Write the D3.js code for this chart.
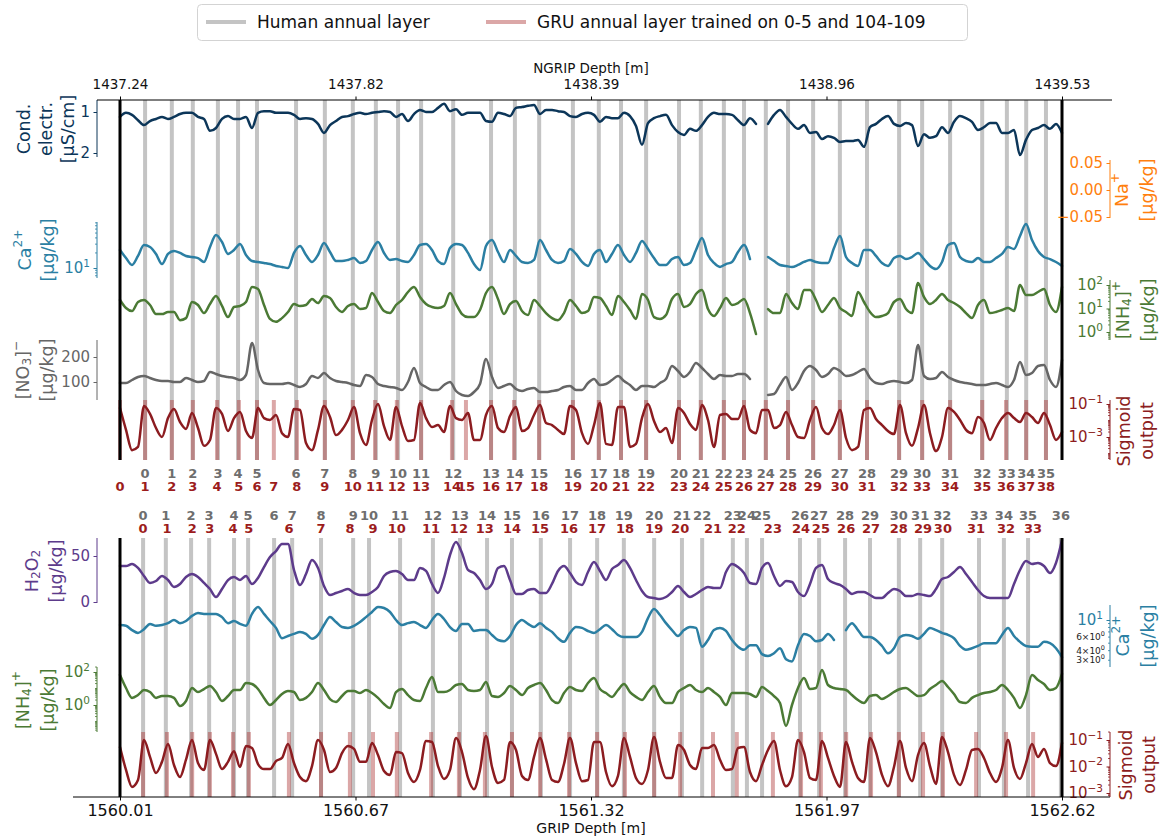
<!DOCTYPE html>
<html>
<head>
<meta charset="utf-8">
<script src="https://cdn.jsdelivr.net/npm/d3@7"></script>
<style>
  body { margin: 0; background: #fff; }
  svg { display: block; }
  text { font-family: "DejaVu Sans", sans-serif; }
</style>
</head>
<body>
<svg id="chart" width="1161" height="838"></svg>
<script>
// ---------------- depth axes ----------------
const ngripRange = [1437.24, 1439.53];
const gripRange = [1560.01, 1562.62];
const ngripTickLabels = ["1437.24", "1437.82", "1438.39", "1438.96", "1439.53"];
const gripTickLabels = ["1560.01", "1560.67", "1561.32", "1561.97", "1562.62"];

// sampling grid of the measurement series (m)
const ngripStart = 1437.24, ngripStep = 0.014586;
const gripStart = 1560.01, gripStep = 0.016624;

// ---------------- annual layer depths (m) ----------------
const ngripHumanLayers = [1437.301, 1437.366, 1437.417, 1437.478, 1437.527, 1437.573, 1437.668, 1437.738, 1437.806, 1437.862, 1437.916, 1437.972, 1438.050, 1438.142, 1438.200, 1438.259, 1438.341, 1438.404, 1438.458, 1438.519, 1438.599, 1438.652, 1438.708, 1438.757, 1438.810, 1438.864, 1438.925, 1438.990, 1439.056, 1439.134, 1439.190, 1439.258, 1439.336, 1439.396, 1439.443, 1439.491];
const ngripGruLayers = [1437.240, 1437.301, 1437.366, 1437.417, 1437.476, 1437.529, 1437.573, 1437.614, 1437.670, 1437.738, 1437.806, 1437.860, 1437.913, 1437.972, 1438.047, 1438.081, 1438.142, 1438.198, 1438.259, 1438.341, 1438.404, 1438.458, 1438.519, 1438.599, 1438.652, 1438.708, 1438.757, 1438.810, 1438.864, 1438.925, 1438.990, 1439.056, 1439.134, 1439.190, 1439.258, 1439.336, 1439.394, 1439.443, 1439.491];
const gripHumanLayers = [1560.074, 1560.137, 1560.207, 1560.257, 1560.326, 1560.365, 1560.437, 1560.487, 1560.567, 1560.656, 1560.700, 1560.786, 1560.877, 1560.952, 1561.027, 1561.096, 1561.176, 1561.257, 1561.332, 1561.406, 1561.490, 1561.567, 1561.623, 1561.708, 1561.747, 1561.789, 1561.894, 1561.947, 1562.019, 1562.088, 1562.168, 1562.227, 1562.288, 1562.390, 1562.459, 1562.526, 1562.617];
const gripGruLayers = [1560.074, 1560.140, 1560.210, 1560.259, 1560.323, 1560.367, 1560.478, 1560.567, 1560.647, 1560.711, 1560.777, 1560.872, 1560.949, 1561.021, 1561.096, 1561.174, 1561.254, 1561.332, 1561.409, 1561.490, 1561.562, 1561.653, 1561.719, 1561.819, 1561.897, 1561.952, 1562.022, 1562.091, 1562.168, 1562.235, 1562.290, 1562.382, 1562.465, 1562.540];

// ---------------- NGRIP records ----------------
const ngripConductivity = [1.12,1.02,1.07,1.20,1.32,1.22,1.17,1.12,1.17,1.12,
 1.05,1.02,1.02,1.12,1.17,1.46,1.39,1.17,1.10,1.17,
 1.17,1.12,1.39,1.02,0.98,0.98,1.02,1.02,1.02,1.07,
 1.17,1.15,1.17,1.29,1.51,1.32,1.22,1.12,1.10,1.05,
 1.02,1.05,1.02,1.00,0.98,1.00,1.12,1.05,1.22,1.05,
 0.95,1.00,1.00,0.90,0.80,0.98,0.93,1.07,1.02,1.02,
 1.02,1.22,1.24,1.02,1.05,1.10,0.90,0.88,0.85,0.83,
 1.05,0.95,0.95,0.98,1.00,1.10,1.12,1.05,1.02,1.07,
 1.24,1.12,1.15,1.15,1.02,1.10,1.34,1.80,1.27,1.15,
 1.10,1.07,1.32,1.49,1.56,1.41,1.46,1.32,1.12,1.02,
 1.05,1.05,1.07,1.20,1.32,1.15,1.29,null,1.29,1.07,
 0.95,1.12,1.29,1.41,1.32,1.51,1.49,1.66,1.59,1.63,
 1.73,1.71,1.71,1.68,1.85,1.37,1.29,1.17,1.10,1.29,
 1.34,1.27,1.32,1.83,1.54,1.63,1.59,1.37,1.51,1.24,
 1.10,1.15,1.24,1.44,1.37,1.27,1.27,1.51,1.51,1.44,
 2.05,1.68,1.44,1.39,1.32,1.41,1.29,1.51];
const ngripNa = [];
const ngripCa = [22.9,15.8,11.5,17.4,28.8,26.3,19.1,12.0,19.1,21.9,
 20.0,17.4,16.6,15.8,13.2,26.3,45.7,33.1,19.1,22.9,
 30.2,18.2,13.8,13.2,12.6,12.0,11.0,10.5,10.0,20.0,
 27.5,18.2,13.2,18.2,31.6,20.9,13.8,13.8,14.5,15.8,
 12.6,13.8,22.9,33.1,20.0,14.5,15.1,13.8,13.2,18.2,
 28.8,30.2,22.9,13.8,12.0,25.1,30.2,28.8,20.0,12.0,
 9.1,27.5,36.3,20.9,13.2,22.9,17.4,13.2,12.6,14.5,
 36.3,22.9,14.5,12.6,13.8,24.0,19.1,13.2,11.0,19.1,
 22.9,13.2,19.1,28.8,18.2,13.2,20.0,34.7,24.0,15.8,
 11.5,11.5,15.1,16.6,11.5,12.6,22.9,39.8,18.2,12.6,
 10.5,12.0,13.2,20.9,28.8,15.1,null,null,16.6,13.8,
 11.5,11.0,10.5,11.5,13.2,14.5,13.2,12.6,12.6,25.1,
 43.7,16.6,12.6,11.0,22.9,22.9,17.4,12.6,11.0,15.8,
 17.4,15.1,16.6,20.0,15.1,11.0,9.5,13.2,28.8,31.6,
 16.6,13.8,13.2,15.8,13.2,13.2,15.8,19.1,26.3,24.0,
 43.7,75.9,36.3,21.9,16.6,15.1,13.2,11.0];
const ngripNH4 = [23.0,10.5,7.8,18.9,23.0,14.1,5.8,5.8,7.1,7.1,
 3.2,3.9,18.9,14.1,6.4,15.5,34.0,12.8,4.3,11.6,
 12.8,18.9,82,67.6,14.1,3.6,2.7,3.9,7.1,15.5,
 12.8,14.1,25.4,17.1,34.0,28.0,11.6,7.1,12.8,15.5,
 9.5,10.5,45.7,18.9,7.8,6.4,14.1,23.0,50.4,82,
 30.9,15.5,11.6,10.5,12.8,45.7,15.5,5.8,4.3,4.3,
 8.6,45.7,82,25.4,5.8,15.5,20.8,7.8,5.3,23.0,
 12.8,6.4,3.9,3.2,6.4,23.0,12.8,6.4,7.8,30.9,
 28.0,12.8,5.3,34.0,18.9,8.6,3.6,41.4,23.0,4.3,
 3.6,5.3,25.4,41.4,11.6,15.5,41.4,61.3,9.5,4.8,
 10.5,28.0,14.1,17.1,25.4,6.4,0.82,null,9.5,6.4,
 6.4,41.4,17.1,9.5,61.3,61.3,23.0,7.1,14.1,28.0,
 10.5,7.1,4.8,50.4,18.9,7.1,4.3,4.8,6.4,18.9,
 25.4,9.5,6.4,122,30.9,15.5,23.0,41.4,23.0,17.1,
 11.6,6.4,3.9,14.1,23.0,6.4,7.1,8.6,10.5,7.8,
 100,37.5,37.5,50.4,67.6,14.1,7.1,82];
const ngripNO3 = [96,96,108,120,124,116,108,104,104,100,
 100,116,108,100,104,140,132,124,120,116,
 108,128,256,148,96,92,92,92,96,88,
 80,92,124,116,136,116,104,100,96,88,
 84,128,120,92,84,80,76,68,100,156,
 96,80,68,68,88,100,64,48,44,60,
 92,192,120,76,84,92,72,64,72,76,
 60,60,64,68,80,84,68,68,96,112,
 88,92,108,124,104,88,68,84,84,80,
 96,112,164,144,120,140,176,156,132,112,
 128,124,124,132,132,112,null,null,48,52,
 88,120,68,96,144,164,148,120,132,156,
 144,124,128,140,152,116,96,92,100,104,
 100,96,108,248,124,112,116,140,120,108,
 100,96,92,88,88,92,96,88,80,108,
 180,128,136,164,168,108,80,188];
const ngripSigmoid = [0.057,0.0027,0.00016,0.00025,0.076,0.025,0.0035,0.0010,0.014,0.050,
 0.0081,0.0031,0.0285,0.0035,0.00029,0.00066,0.057,0.025,0.0023,0.014,
 0.033,0.0023,0.00087,0.057,0.014,0.0107,0.0216,0.0017,0.0010,0.050,
 0.043,0.00043,0.00016,0.0027,0.076,0.0163,0.0013,0.0027,0.0107,0.066,
 0.0017,0.00033,0.0107,0.100,0.0046,0.00066,0.066,0.0046,0.00057,0.00066,
 0.115,0.014,0.0040,0.0053,0.0020,0.076,0.014,0.0107,0.0285,0.00066,
 0.00066,0.0216,0.076,0.0035,0.0020,0.0187,0.066,0.0023,0.0035,0.0216,
 0.087,0.0071,0.0053,0.0027,0.0015,0.076,0.043,0.0017,0.00038,0.0053,
 0.115,0.00038,0.00033,0.066,0.066,0.00025,0.00038,0.014,0.100,0.0093,
 0.0020,0.0035,0.00043,0.057,0.0285,0.0061,0.0027,0.087,0.0107,0.00025,
 0.0216,0.025,0.0123,0.0123,0.076,0.0027,0.0017,0.043,0.043,0.0035,
 0.0053,0.033,0.0053,0.0010,0.00087,0.0107,0.066,0.0035,0.0015,0.0053,
 0.043,0.00087,0.00016,0.00025,0.043,0.057,0.0123,0.0053,0.0023,0.0015,
 0.087,0.0017,0.00029,0.0035,0.087,0.0017,0.00014,0.0010,0.057,0.033,
 0.0107,0.0027,0.0017,0.0163,0.0071,0.00066,0.0035,0.014,0.0285,0.014,
 0.0081,0.0285,0.0163,0.0071,0.0285,0.0053,0.00066,0.0020];

// ---------------- GRIP records ----------------
const gripH2O2 = [39.1,39.1,41.3,37.0,28.3,20.7,22.8,28.3,23.9,16.3,
 19.6,27.2,30.4,27.2,20.7,14.1,5.4,14.1,23.9,27.2,
 23.9,28.3,19.6,26.1,38.0,48.9,55.4,63.0,63.0,34.8,
 18.5,30.4,45.7,37.0,17.4,7.6,9.8,12.0,14.1,9.8,
 7.6,7.6,10.9,16.3,28.3,32.6,33.7,30.4,23.9,23.9,
 37.0,33.7,19.6,9.8,26.1,51.1,65.2,53.3,34.8,31.5,
 23.9,14.1,19.6,37.0,39.1,23.9,8.7,8.7,13.0,14.1,
 9.8,9.8,19.6,33.7,39.1,31.5,21.7,18.5,32.6,43.5,
 33.7,23.9,35.9,40.2,45.7,37.0,23.9,12.0,5.4,4.3,
 3.3,5.4,10.9,17.4,10.9,5.4,8.7,13.0,16.3,15.2,
 15.2,32.6,41.3,38.0,31.5,20.7,19.6,37.0,42.4,28.3,
 17.4,22.8,21.7,10.9,6.5,19.6,37.0,40.2,25.0,20.7,
 18.5,14.1,8.7,10.9,10.9,7.6,4.3,4.3,9.8,14.1,
 12.0,6.5,6.5,8.7,7.6,6.5,14.1,25.0,27.2,32.6,
 38.0,30.4,21.7,13.0,6.5,4.3,4.3,4.3,4.3,19.6,
 34.8,44.6,41.3,42.4,39.1,31.5,42.4,67.4];
const gripCa = [8.6,8.4,7.4,6.8,7.6,8.9,8.4,8.6,9.1,10.0,
 9.1,9.7,11.3,12.3,12.0,12.0,12.0,10.9,9.1,9.7,
 8.9,8.4,12.0,14.8,12.0,9.7,7.9,5.8,6.2,6.6,
 7.0,6.6,5.7,6.4,8.6,10.9,9.4,8.1,7.9,8.4,
 9.4,10.9,12.7,14.8,14.3,12.7,10.0,8.6,9.1,9.4,
 8.6,7.9,10.0,12.0,10.3,8.1,7.2,8.9,8.9,7.2,
 7.4,7.4,6.4,5.5,5.3,6.2,8.6,10.0,8.9,8.1,
 9.1,7.9,7.0,5.8,5.2,6.8,8.1,7.9,7.2,6.8,
 7.6,8.6,7.6,6.4,6.0,6.0,6.0,7.0,10.6,13.9,
 11.6,9.1,7.4,6.2,7.4,8.1,7.9,4.5,5.5,7.4,
 7.9,7.2,5.5,4.5,4.1,4.7,4.7,3.6,3.4,3.7,
 4.3,3.1,2.9,4.7,6.6,6.2,5.3,5.5,6.6,5.5,
 null,7.4,9.1,7.4,6.0,6.0,5.5,4.6,3.7,4.3,
 6.0,6.4,6.2,5.7,6.6,7.9,7.4,6.8,6.4,5.8,
 4.6,4.1,4.3,4.6,5.0,5.0,5.0,6.4,7.9,6.2,
 5.2,4.6,4.5,4.5,5.2,5.0,4.3,3.3];
const gripNH4 = [65.8,10.7,2.7,4.0,8.1,6.1,2.7,3.5,3.5,2.7,
 0.87,1.75,10.7,6.1,9.3,14.2,6.1,1.75,3.5,8.1,
 8.1,21.5,18.7,9.3,2.7,1.0,2.0,4.6,7.0,6.1,
 2.0,2.7,6.1,21.5,8.1,2.3,1.52,3.5,7.0,7.0,
 5.3,8.1,5.3,2.7,1.15,0.66,6.1,9.3,4.0,2.0,
 1.75,10.7,49.8,6.1,6.1,8.1,16.3,18.7,8.1,7.0,
 8.1,24.8,3.5,3.1,5.3,14.2,8.1,4.0,10.7,16.3,
 21.5,8.1,2.0,1.32,5.3,12.3,8.1,7.0,21.5,43.3,
 9.3,5.3,3.1,8.1,18.7,6.1,3.1,2.0,6.1,14.2,
 3.1,1.32,1.32,6.1,10.7,16.3,8.1,6.1,10.7,6.1,
 3.1,1.0,5.3,5.3,5.3,4.6,3.1,12.3,7.0,3.5,
 1.32,0.053,1.0,10.7,43.3,9.3,10.7,132,16.3,10.7,
 9.3,8.1,4.0,2.0,1.32,3.5,4.0,2.3,3.5,6.1,
 9.3,10.7,6.1,3.5,4.0,9.3,16.3,28.5,12.3,4.6,
 1.52,1.32,2.7,4.0,5.3,6.1,8.1,16.3,8.1,2.7,
 0.66,4.0,65.8,32.7,18.7,8.1,10.7,75.7];
const gripSigmoid = [0.054,0.0074,0.0017,0.0031,0.100,0.023,0.0057,0.015,0.071,0.0114,
 0.0040,0.018,0.100,0.0135,0.0074,0.100,0.030,0.0080,0.015,0.038,
 0.0096,0.059,0.050,0.0124,0.0080,0.0080,0.016,0.021,0.071,0.0135,
 0.0040,0.0028,0.0104,0.100,0.042,0.0062,0.0088,0.032,0.059,0.046,
 0.015,0.015,0.077,0.027,0.0068,0.0048,0.035,0.032,0.0057,0.0026,
 0.0074,0.092,0.084,0.0104,0.0034,0.0074,0.119,0.035,0.0037,0.0014,
 0.0074,0.141,0.0096,0.0024,0.0031,0.084,0.042,0.0044,0.0031,0.023,
 0.119,0.019,0.0031,0.0026,0.0124,0.119,0.0135,0.0028,0.0031,0.084,
 0.084,0.0062,0.0018,0.0044,0.119,0.023,0.0037,0.0022,0.0074,0.130,
 0.015,0.0037,0.0037,0.065,0.042,0.0114,0.0080,0.050,0.050,0.065,
 0.018,0.0074,0.0080,0.050,0.054,0.0062,0.0028,0.0114,0.042,0.092,
 0.0074,0.0018,0.0040,0.100,0.035,0.0037,0.0031,0.092,0.021,0.0044,
 0.0017,0.084,0.015,0.0037,0.0026,0.119,0.035,0.0048,0.0018,0.0096,
 0.092,0.0088,0.0028,0.027,0.077,0.0104,0.0022,0.130,0.035,0.0048,
 0.0020,0.0074,0.042,0.046,0.021,0.0057,0.0026,0.0088,0.100,0.0088,
 0.0034,0.0135,0.071,0.023,0.046,0.0135,0.0104,0.077];

// ---------------- drawing ----------------
const svg = d3.select("#chart");
svg.append("rect").attr("width", 1161).attr("height", 838).attr("fill", "#fff");

const xN = d3.scaleLinear().domain(ngripRange).range([120, 1062]);
const xG = d3.scaleLinear().domain(gripRange).range([120, 1062]);

const COL = {
  cond: "#0c3659", na: "#ff7f0e", ca: "#2b7fa3", nh4: "#4b7a35",
  no3: "#666666", sig: "#8c1c20", h2o2: "#5d3b8b"
};
const LEFT_X = 97, RIGHT_X = 1110;
const HUMAN = "#c4c4c4";
const GRU = "rgba(170,45,45,0.42)";
const LABEL_FS = 17.5, TICK_FS = 15;

// text with sub/superscript parts
function rich(t, parts, fs) {
  let cur = 0;
  parts.forEach(([s, kind]) => {
    const target = kind === "sup" ? -0.42 * fs : kind === "sub" ? 0.24 * fs : 0;
    const sp = t.append("tspan").text(s);
    if (kind) sp.attr("font-size", fs * 0.7);
    if (target !== cur) sp.attr("dy", target - cur);
    cur = target;
  });
}
const expText = e => String(e).replace("-", "\u2212");

const panels = [
  { x: xN, start: ngripStart, step: ngripStep, values: ngripConductivity,
    y: d3.scaleLinear().domain([1, 2]).range([112, 153]), spine: [100, 157], side: "left",
    color: COL.cond, ticks: [1, 2], fmt: d => String(d),
    label: [[["Cond."]], [["electr."]], [["[\u03bcS/cm]"]]], lx: [24, 46, 68], ly: 129 },
  { x: xN, start: ngripStart, step: ngripStep, values: ngripNa,
    y: d3.scaleLinear().domain([-0.05, 0.05]).range([217, 163]), spine: [160, 218], side: "right",
    color: COL.na, ticks: [-0.05, 0, 0.05], fmt: d3.format(".2f"),
    label: [[["Na"], ["+", "sup"]], [["[\u03bcg/kg]"]]], lx: [1122, 1147], ly: 190 },
  { x: xN, start: ngripStart, step: ngripStep, values: ngripCa,
    y: d3.scaleLog().domain([10, 100]).range([268, 218]), spine: [222, 278], side: "left",
    color: COL.ca, log: true, ticks: [10],
    label: [[["Ca"], ["2+", "sup"]], [["[\u03bcg/kg]"]]], lx: [25, 48], ly: 250 },
  { x: xN, start: ngripStart, step: ngripStep, values: ngripNH4,
    y: d3.scaleLog().domain([1, 100]).range([332, 285]), spine: [280, 340], side: "right",
    color: COL.nh4, log: true, ticks: [1, 10, 100],
    label: [[["[NH"], ["4", "sub"], ["]"], ["+", "sup"]], [["[\u03bcg/kg]"]]], lx: [1123, 1148], ly: 310 },
  { x: xN, start: ngripStart, step: ngripStep, values: ngripNO3,
    y: d3.scaleLinear().domain([100, 200]).range([382, 357]), spine: [340, 400], side: "left",
    color: COL.no3, ticks: [100, 200], fmt: d => String(d),
    label: [[["[NO"], ["3", "sub"], ["]"], ["\u2212", "sup"]], [["[\u03bcg/kg]"]]], lx: [23, 47], ly: 370 },
  { x: xN, start: ngripStart, step: ngripStep, values: ngripSigmoid,
    y: d3.scaleLog().domain([1e-3, 1e-1]).range([437, 404]), spine: [400, 460], side: "right",
    color: COL.sig, log: true, ticks: [1e-3, 1e-1],
    label: [[["Sigmoid"]], [["output"]]], lx: [1124, 1147], ly: 431 },

  { x: xG, start: gripStart, step: gripStep, values: gripH2O2,
    y: d3.scaleLinear().domain([0, 50]).range([602, 556]), spine: [538, 603], side: "left",
    color: COL.h2o2, ticks: [0, 50], fmt: d => String(d),
    label: [[["H"], ["2", "sub"], ["O"], ["2", "sub"]], [["[\u03bcg/kg]"]]], lx: [32, 56], ly: 571 },
  { x: xG, start: gripStart, step: gripStep, values: gripCa,
    y: d3.scaleLog().domain([1, 10]).range([697, 620]), spine: [605, 667], side: "right",
    color: COL.ca, log: true, ticks: [10], minorLabels: [3, 4, 6],
    label: [[["Ca"], ["2+", "sup"]], [["[\u03bcg/kg]"]]], lx: [1123, 1148], ly: 636 },
  { x: xG, start: gripStart, step: gripStep, values: gripNH4,
    y: d3.scaleLog().domain([1, 100]).range([705, 672]), spine: [667, 732], side: "left",
    color: COL.nh4, log: true, ticks: [1, 100],
    label: [[["[NH"], ["4", "sub"], ["]"], ["+", "sup"]], [["[\u03bcg/kg]"]]], lx: [23, 48], ly: 700 },
  { x: xG, start: gripStart, step: gripStep, values: gripSigmoid,
    y: d3.scaleLog().domain([1e-3, 1e-1]).range([793, 740]), spine: [732, 797], side: "right",
    color: COL.sig, log: true, ticks: [1e-3, 1e-2, 1e-1],
    label: [[["Sigmoid"]], [["output"]]], lx: [1126, 1149], ly: 765 }
];

// ---- legend ----
const leg = svg.append("g");
leg.append("rect").attr("x", 197.5).attr("y", 4.5).attr("width", 770).attr("height", 36)
  .attr("rx", 4).attr("fill", "#fff").attr("stroke", "#d3d3d3");
leg.append("line").attr("x1", 206).attr("x2", 246).attr("y1", 22).attr("y2", 22)
  .attr("stroke", HUMAN).attr("stroke-width", 4);
leg.append("text").attr("x", 257).attr("y", 28).attr("font-size", 17).attr("fill", "#111")
  .text("Human annual layer");
leg.append("line").attr("x1", 486).attr("x2", 526).attr("y1", 22).attr("y2", 22)
  .attr("stroke", GRU).attr("stroke-width", 4);
leg.append("text").attr("x", 537).attr("y", 28).attr("font-size", 17).attr("fill", "#111")
  .text("GRU annual layer trained on 0-5 and 104-109");

// ---- annual layer markers ----
function layerLines(x, depths, y0, y1, color) {
  svg.append("g").selectAll("line").data(depths).join("line")
    .attr("x1", d => x(d)).attr("x2", d => x(d)).attr("y1", y0).attr("y2", y1)
    .attr("stroke", color).attr("stroke-width", 4);
}
layerLines(xN, ngripHumanLayers, 100, 460, HUMAN);
layerLines(xN, ngripGruLayers, 400, 460, GRU);
layerLines(xG, gripHumanLayers, 538, 797, HUMAN);
layerLines(xG, gripGruLayers, 732, 797, GRU);

// ---- series ----
panels.forEach(p => {
  const pts = p.values.map((v, i) => ({ d: p.start + i * p.step, v }));
  if (!pts.length) return;
  const line = d3.line()
    .defined(d => d.v != null)
    .x(d => p.x(d.d)).y(d => p.y(d.v))
    .curve(d3.curveMonotoneX);
  svg.append("path").datum(pts).attr("d", line)
    .attr("fill", "none").attr("stroke", p.color).attr("stroke-width", 2.5)
    .attr("stroke-linejoin", "round").attr("stroke-linecap", "round");
});

// ---- section boundaries ----
[[100, 460], [538, 797]].forEach(([a, b]) => {
  [120, 1062].forEach(xv => {
    svg.append("line").attr("x1", xv).attr("x2", xv).attr("y1", a).attr("y2", b)
      .attr("stroke", "#000").attr("stroke-width", 3);
  });
});

// ---- panel axes ----
panels.forEach(p => {
  const ax = p.side === "left" ? LEFT_X : RIGHT_X;
  const g = svg.append("g").attr("transform", `translate(${ax},0)`);
  g.append("line").attr("x1", 0).attr("x2", 0).attr("y1", p.spine[0]).attr("y2", p.spine[1])
    .attr("stroke", p.color).attr("stroke-width", 1);

  const axis = d3.axisLeft(p.y).tickValues(p.ticks).tickSize(3.5).tickPadding(3.5)
    .tickFormat(p.log ? () => "" : p.fmt);
  const ag = g.append("g").call(axis);
  ag.select(".domain").remove();
  ag.selectAll(".tick line").attr("stroke", p.color);
  ag.selectAll(".tick text").attr("fill", p.color).attr("font-size", TICK_FS)
    .attr("font-family", '"DejaVu Sans", sans-serif');
  if (p.log) {
    ag.selectAll(".tick text").each(function (d) {
      const t = d3.select(this);
      t.text(null);
      t.append("tspan").text("10");
      t.append("tspan").attr("dy", -6.5).attr("font-size", TICK_FS * 0.7)
        .text(expText(Math.round(Math.log10(d))));
    });
    // minor ticks
    const [lo, hi] = d3.extent(p.spine.map(v => p.y.invert(v)));
    const minors = [];
    for (let e = Math.floor(Math.log10(lo)) - 1; e <= Math.ceil(Math.log10(hi)); e++) {
      for (let m = 1; m <= 9; m++) {
        const v = m * Math.pow(10, e);
        if (v >= lo && v <= hi && !p.ticks.some(t => Math.abs(t - v) / v < 1e-6)) minors.push(v);
      }
    }
    g.append("g").selectAll("line").data(minors).join("line")
      .attr("x1", -2).attr("x2", 0).attr("y1", d => p.y(d)).attr("y2", d => p.y(d))
      .attr("stroke", p.color).attr("stroke-width", 0.8);
    if (p.minorLabels) {
      p.minorLabels.forEach(m => {
        const t = g.append("text").attr("x", -5).attr("y", p.y(m) + 3)
          .attr("text-anchor", "end").attr("font-size", 9).attr("fill", "#222");
        t.append("tspan").text(m + "\u00d710");
        t.append("tspan").attr("dy", -4).attr("font-size", 6.5).text("0");
      });
    }
  }

  // rotated axis title
  p.label.forEach((parts, j) => {
    const t = svg.append("text")
      .attr("transform", `translate(${p.lx[j]},${p.ly}) rotate(-90)`)
      .attr("text-anchor", "middle").attr("dominant-baseline", "central")
      .attr("font-size", LABEL_FS).attr("fill", p.color);
    rich(t, parts, LABEL_FS);
  });
});

// ---- depth axes ----
const linspace = (r, n) => d3.range(n).map(i => r[0] + i * (r[1] - r[0]) / (n - 1));

svg.append("line").attr("x1", 97).attr("x2", 1112).attr("y1", 100).attr("y2", 100)
  .attr("stroke", "#000").attr("stroke-width", 1);
const topAx = svg.append("g").attr("transform", "translate(0,100)")
  .call(d3.axisTop(xN).tickValues(linspace(ngripRange, 5)).tickSize(3.5).tickPadding(7.5)
    .tickSizeOuter(0).tickFormat((d, i) => ngripTickLabels[i]));
topAx.select(".domain").remove();
topAx.selectAll(".tick text").attr("font-size", 13.5).attr("fill", "#111")
  .attr("font-family", '"DejaVu Sans", sans-serif');
svg.append("text").attr("x", 591).attr("y", 73).attr("text-anchor", "middle")
  .attr("font-size", 13.5).attr("fill", "#111").text("NGRIP Depth [m]");

svg.append("line").attr("x1", 73).attr("x2", 1110).attr("y1", 797).attr("y2", 797)
  .attr("stroke", "#000").attr("stroke-width", 1);
const botAx = svg.append("g").attr("transform", "translate(0,797)")
  .call(d3.axisBottom(xG).tickValues(linspace(gripRange, 5)).tickSize(3.5).tickPadding(4)
    .tickSizeOuter(0).tickFormat((d, i) => gripTickLabels[i]));
botAx.select(".domain").remove();
botAx.selectAll(".tick text").attr("font-size", 16).attr("fill", "#111")
  .attr("font-family", '"DejaVu Sans", sans-serif');
svg.append("text").attr("x", 591).attr("y", 833).attr("text-anchor", "middle")
  .attr("font-size", 14).attr("fill", "#111").text("GRIP Depth [m]");

// ---- layer numbering ----
function layerNumbers(x, depths, yBase, color) {
  svg.append("g").selectAll("text").data(depths).join("text")
    .attr("x", d => x(d)).attr("y", yBase).attr("text-anchor", "middle")
    .attr("font-size", 13).attr("font-weight", "bold").attr("fill", color)
    .text((d, i) => i);
}
layerNumbers(xN, ngripHumanLayers, 478, "#6e6e6e");
layerNumbers(xN, ngripGruLayers, 491, "#9c1c1c");
layerNumbers(xG, gripHumanLayers, 520, "#6e6e6e");
layerNumbers(xG, gripGruLayers, 533, "#9c1c1c");
</script>
</body>
</html>
